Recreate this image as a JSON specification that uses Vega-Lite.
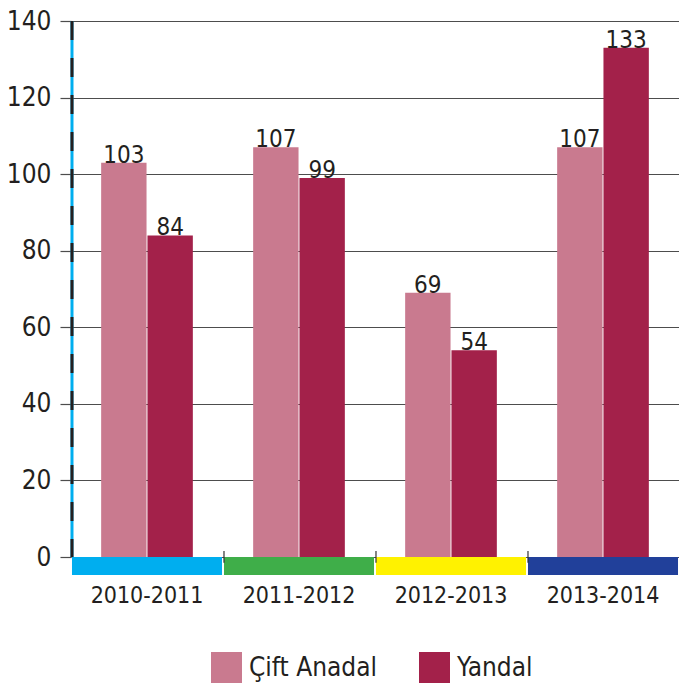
{
  "$schema": "https://vega.github.io/schema/vega-lite/v6.json",
  "width": 608,
  "height": 554,
  "autosize": {"type": "none"},
  "padding": {"left": 71, "top": 21, "right": 0, "bottom": 114},
  "background": "white",
  "config": {
    "view": {"stroke": null},
    "font": "DejaVu Sans Condensed",
    "axis": {"labelColor": "#231f20", "labelFont": "DejaVu Sans Condensed"},
    "legend": {"labelFont": "DejaVu Sans Condensed"}
  },
  "datasets": {
    "main": [
      {"year": "2010-2011", "type": "Çift Anadal", "value": 103},
      {"year": "2010-2011", "type": "Yandal", "value": 84},
      {"year": "2011-2012", "type": "Çift Anadal", "value": 107},
      {"year": "2011-2012", "type": "Yandal", "value": 99},
      {"year": "2012-2013", "type": "Çift Anadal", "value": 69},
      {"year": "2012-2013", "type": "Yandal", "value": 54},
      {"year": "2013-2014", "type": "Çift Anadal", "value": 107},
      {"year": "2013-2014", "type": "Yandal", "value": 133}
    ],
    "strips": [
      {"year": "2010-2011", "col": "#00aeef"},
      {"year": "2011-2012", "col": "#3fae49"},
      {"year": "2012-2013", "col": "#fff200"},
      {"year": "2013-2014", "col": "#21409a"}
    ],
    "bounds": [
      {"year": "2011-2012"},
      {"year": "2012-2013"},
      {"year": "2013-2014"}
    ],
    "first": [{"year": "2010-2011"}]
  },
  "layer": [
    {
      "data": {"name": "strips"},
      "mark": {"type": "bar"},
      "encoding": {
        "x": {
          "field": "year", "type": "nominal",
          "scale": {"paddingInner": 0.013, "paddingOuter": 0.0065},
          "axis": {"orient": "bottom", "domain": false, "ticks": false, "labelFontSize": 23, "labelPadding": 9, "labelAngle": 0, "title": null}
        },
        "y": {
          "datum": 0, "type": "quantitative",
          "scale": {"domain": [-4.7, 140], "nice": false, "zero": false},
          "axis": {"values": [0, 20, 40, 60, 80, 100, 120, 140], "grid": true, "gridColor": "#4d4d4d", "gridWidth": 1.2, "tickColor": "#4d4d4d", "tickSize": 11, "tickWidth": 1.2, "domain": false, "labelFontSize": 26, "labelPadding": 9, "title": null}
        },
        "y2": {"datum": -4.7},
        "fill": {"field": "col", "type": "nominal", "scale": null}
      }
    },
    {
      "data": {"name": "main"},
      "mark": {"type": "bar"},
      "encoding": {
        "x": {"field": "year", "type": "nominal"},
        "xOffset": {"field": "type", "type": "nominal", "sort": ["Çift Anadal", "Yandal"], "scale": {"paddingInner": 0.02, "paddingOuter": 0.63}},
        "y": {"field": "value", "type": "quantitative"},
        "color": {
          "field": "type", "type": "nominal",
          "scale": {"domain": ["Çift Anadal", "Yandal"], "range": ["#c97a8f", "#a3214a"]},
          "legend": {"orient": "none", "legendX": 140, "legendY": 631, "direction": "horizontal", "title": null, "symbolType": "square", "symbolSize": 961, "symbolStrokeWidth": 0, "symbolOpacity": 1, "labelFontSize": 26, "labelOffset": 7, "columnPadding": 41, "labelColor": "#231f20"}
        }
      }
    },
    {
      "data": {"name": "main"},
      "mark": {"type": "text", "baseline": "alphabetic", "align": "center", "fontSize": 24, "color": "#231f20"},
      "encoding": {
        "x": {"field": "year", "type": "nominal"},
        "xOffset": {"field": "type", "type": "nominal", "sort": ["Çift Anadal", "Yandal"]},
        "y": {"field": "value", "type": "quantitative"},
        "text": {"field": "value", "type": "quantitative"}
      }
    },
    {
      "data": {"name": "first"},
      "mark": {"type": "rule", "color": "#00aeef", "strokeWidth": 3},
      "encoding": {
        "x": {"field": "year", "type": "nominal", "bandPosition": 0},
        "y": {"datum": 0},
        "y2": {"datum": 140}
      }
    },
    {
      "data": {"name": "first"},
      "mark": {"type": "rule", "color": "#231f20", "strokeWidth": 3, "strokeDash": [19, 18]},
      "encoding": {
        "x": {"field": "year", "type": "nominal", "bandPosition": 0},
        "y": {"datum": 140},
        "y2": {"datum": 0}
      }
    },
    {
      "data": {"name": "bounds"},
      "mark": {"type": "rule", "color": "#333333", "strokeWidth": 1.2},
      "encoding": {
        "x": {"field": "year", "type": "nominal", "bandPosition": 0},
        "y": {"datum": -1.5},
        "y2": {"datum": 1.6}
      }
    }
  ]
}
